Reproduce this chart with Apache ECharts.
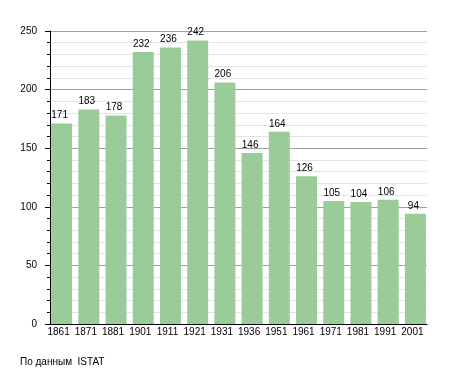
<!DOCTYPE html>
<html><head><meta charset="utf-8">
<script src="https://cdn.jsdelivr.net/npm/echarts@6/dist/echarts.min.js"></script>
<style>html,body{margin:0;padding:0;background:#fff}#c{width:455px;height:373px}</style>
</head><body><div id="c"></div>
<script>
const years = ['1861','1871','1881','1901','1911','1921','1931','1936','1951','1961','1971','1981','1991','2001'];
const population = [171,183,178,232,236,242,206,146,164,126,105,104,106,94];
const yTicks = [0,50,100,150,200,250];
const sourceText = 'По данным  ISTAT';

const FONT = 'Liberation Sans, Arial, sans-serif';
const yMin = yTicks[0], yMax = yTicks[yTicks.length-1];
const chart = echarts.init(document.getElementById('c'), null, {renderer:'canvas'});
chart.setOption({
  animation:false,
  textStyle:{fontFamily:FONT},
  graphic:[{type:'text',left:20,top:357,style:{text:sourceText,fontSize:10,fill:'#000',fontFamily:FONT}}],
  grid:[
    {left:50,right:28,top:31,bottom:49},
    {left:48,right:26,top:31,bottom:49}
  ],
  xAxis:[
    {type:'value',gridIndex:0,min:0,max:1,
      axisLine:{show:true,onZero:false,lineStyle:{color:'#000',width:1}},
      axisTick:{show:false},axisLabel:{show:false},splitLine:{show:false}},
    {type:'category',gridIndex:1,data:years,
      axisLine:{show:false},axisTick:{show:false},
      axisLabel:{color:'#000',fontSize:10,margin:3,interval:0,padding:[0,6,0,0]}}
  ],
  yAxis:[
    {type:'value',gridIndex:0,min:yMin,max:yMax,interval:50,
      axisLine:{show:true,lineStyle:{color:'#000',width:1}},
      axisTick:{show:true,inside:false,length:5,lineStyle:{color:'#000'}},
      minorTick:{show:true,splitNumber:5,length:3,lineStyle:{color:'#000'}},
      splitLine:{show:true,lineStyle:{color:'#a0a0a0',width:1}},
      minorSplitLine:{show:true,lineStyle:{color:'#e4e4e4',width:1}},
      axisLabel:{color:'#000',fontSize:10,margin:13}},
    {type:'value',gridIndex:1,min:yMin,max:yMax,show:false,splitLine:{show:false}}
  ],
  series:[{type:'bar',xAxisIndex:1,yAxisIndex:1,data:population,barWidth:21,
    itemStyle:{color:'#99cc99'},
    label:{show:true,position:'top',color:'#000',fontSize:10,distance:3,padding:[0,4,0,0]}}]
});
</script></body></html>
